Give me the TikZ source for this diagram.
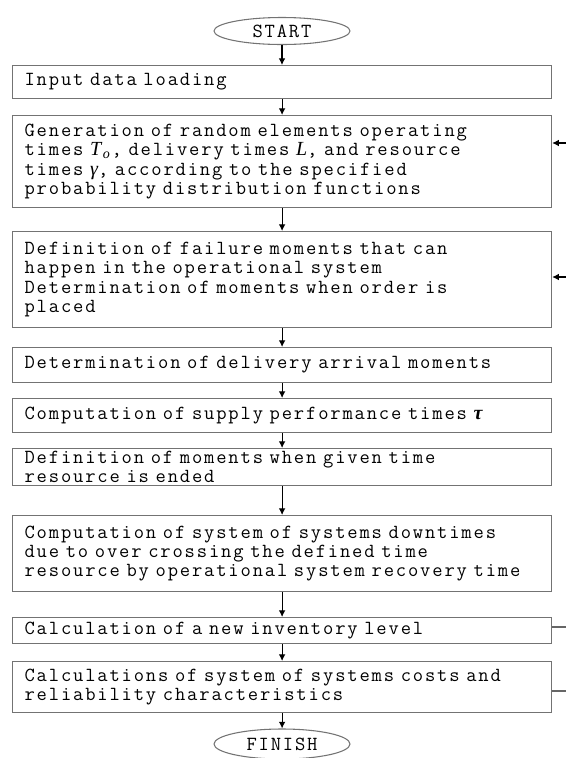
\documentclass[tikz,border=0pt]{standalone}
\usepackage{fontspec}
\newfontfamily\symf{Liberation Serif}
\newfontfamily\cour{Latin Modern Mono}[LetterSpace=9.2]
\usetikzlibrary{shapes.geometric,arrows.meta}
\newcommand\fs{\cour\fontsize{15pt}{14.4pt}\selectfont
  \fontdimen2\font=9.25pt\fontdimen3\font=0pt\fontdimen4\font=0pt\relax}
\newcommand\sy[1]{{\symf\itshape #1}}
\begin{document}
\begin{tikzpicture}[x=0.75pt,y=-0.75pt,
  box/.style={draw=black!55, line width=0.9pt, anchor=north west, minimum width=404.25pt,
    text width=386.25pt, inner xsep=9pt, inner ysep=0pt, align=left, font=\fs},
  term/.style={ellipse, draw=black!55, line width=0.8pt, minimum width=102pt,
    minimum height=20.25pt, inner sep=0pt, font=\fs},
  arr/.style={-{Latex[length=5pt,width=5pt]}, line width=0.8pt},
  fb/.style={line width=0.8pt, draw=black!60}]
\useasboundingbox (0,0) rectangle (566,758);
\node[term] (start) at (282,31) {START};
\node[box, minimum height=24.75pt] (b1) at (12,65) {Input data loading};
\node[box, minimum height=69pt] (b2) at (12,115) {Generation of random elements operating\\
times \sy{T}\kern1.2pt\textsubscript{\sy{o}}\kern0.8pt, delivery times \sy{L}, and resource\\
times \sy{γ}, according to the specified\\
probability distribution functions};
\node[box, minimum height=72pt] (b3) at (12,231) {Definition of failure moments that can\\
happen in the operational system\\
Determination of moments when order is\\
placed};
\node[box, minimum height=26.25pt] (b4) at (12,347) {Determination of delivery arrival moments};
\node[box, minimum height=25.5pt] (b5) at (12,398) {Computation of supply performance times {\symf\bfseries\itshape τ}};
\node[box, minimum height=27.75pt] (b6) at (12,448) {Definition of moments when given time\\
resource is ended};
\node[box, minimum height=57pt] (b7) at (12,515) {Computation of system of systems downtimes\\
due to over crossing the defined time\\
resource by operational system recovery time};
\node[box, minimum height=19.5pt] (b8) at (12,617) {Calculation of a new inventory level};
\node[box, minimum height=38.25pt] (b9) at (12,661) {Calculations of system of systems costs and\\
reliability characteristics};
\node[term, minimum height=22.5pt] (finish) at (282,744) {FINISH};

\draw[arr] (start.south) -- (start.south |- b1.north);
\draw[arr] (b1.south) -- (b2.north);
\draw[arr] (b2.south) -- (b3.north);
\draw[arr] (b3.south) -- (b4.north);
\draw[arr] (b4.south) -- (b5.north);
\draw[arr] (b5.south) -- (b6.north);
\draw[arr] (b6.south) -- (b7.north);
\draw[arr] (b7.south) -- (b8.north);
\draw[arr] (b8.south) -- (b9.north);
\draw[arr] (b9.south) -- (b9.south |- finish.north);

\coordinate (r2) at (566,143);
\coordinate (r3) at (566,277);
\coordinate (r8) at (566,627);
\coordinate (r9) at (566,691);
\draw[arr] (r2) -- (r2 -| b2.east);
\draw[arr] (r3) -- (r3 -| b3.east);
\draw[fb] (r8 -| b8.east) -- (r8);
\draw[fb] (r9 -| b9.east) -- (r9);
\end{tikzpicture}
\end{document}
